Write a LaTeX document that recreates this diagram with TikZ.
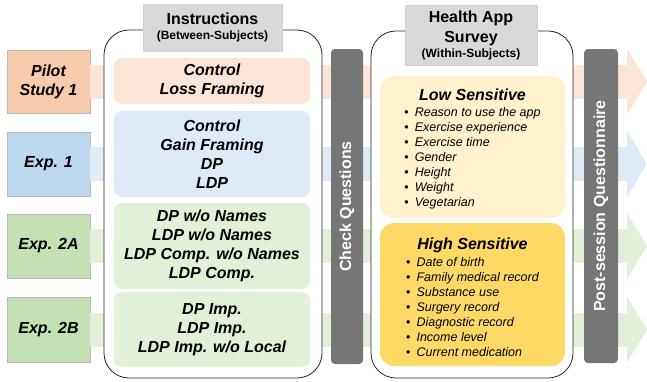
\documentclass[tikz,border=0pt]{standalone}
\usepackage{fontspec}
\setmainfont{Liberation Sans}
\usetikzlibrary{positioning,arrows.meta}

\definecolor{pilotdark}{HTML}{F8CBAD}
\definecolor{pilotlight}{HTML}{FBE5D6}
\definecolor{expAdark}{HTML}{BDD7EE}
\definecolor{expAlight}{HTML}{DEEBF7}
\definecolor{expBdark}{HTML}{C5E0B4}
\definecolor{expBlight}{HTML}{E2F0D9}
\definecolor{lowfill}{HTML}{FFF2CC}
\definecolor{highfill}{HTML}{FFD966}
\definecolor{titlegray}{HTML}{D9D9D9}
\definecolor{bargray}{HTML}{767676}

\begin{document}
\begin{tikzpicture}[x=1pt,y=-1pt,
    expbox/.style={rectangle, draw=gray!55, minimum width=83pt, minimum height=63pt, font=\fontsize{16}{19}\selectfont\bfseries\itshape, align=center},
    band/.style={line width=34pt, -{Triangle[length=20pt, width=66pt, line width=0pt]}},
    phasebox/.style={rectangle, draw=black!85, line width=0.8pt, rounded corners=25pt, fill=white},
    titlebox/.style={rectangle, draw=gray!35, fill=titlegray, font=\fontsize{16}{20}\selectfont\bfseries, align=center},
    condbox/.style={rectangle, rounded corners=8pt, minimum width=196pt, font=\fontsize{16}{19}\selectfont\bfseries\itshape, align=center},
    sensbox/.style={rectangle, rounded corners=14pt, minimum width=185pt, minimum height=142pt, font=\fontsize{12.5}{15}\selectfont\itshape, align=center},
    bar/.style={rectangle, rounded corners=4pt, fill=bargray, rotate=90, minimum width=315pt, text=white, font=\fontsize{16}{19}\selectfont\bfseries}]
    \useasboundingbox (0,0) rectangle (647,381);

    %% Experiments
    \node[expbox, fill=pilotdark] (pilot) at (48.5,81.5) {Pilot\\Study 1};
    \node[expbox, fill=expAdark, minimum height=64pt] (exp1) at (48.5,164) {Exp. 1};
    \node[expbox, fill=expBdark, minimum height=64pt] (exp2a) at (48.5,246) {Exp. 2A};
    \node[expbox, fill=expBdark, minimum height=65pt] (exp2b) at (48.5,329.5) {Exp. 2B};

    \coordinate (pilotend) at (647,81.5);
    \coordinate (exp1end) at (647,164);
    \coordinate (exp2aend) at (647,246);
    \coordinate (exp2bend) at (647,329.5);

    \draw[band, pilotlight] (pilot.east) -- (pilotend);
    \draw[band, expAlight] (exp1.east) -- (exp1end);
    \draw[band, expBlight] (exp2a.east) -- (exp2aend);
    \draw[band, expBlight] (exp2b.east) -- (exp2bend);

    %% Instructions (between-subjects)
    \node[phasebox, minimum width=218pt, minimum height=348pt] (instr) at (213,204) {};
    \node[titlebox, minimum width=139pt, minimum height=47pt] (instrtitle) at (212.5,27.5) {Instructions\\[-5pt]{\fontsize{12}{14}\selectfont(Between-Subjects)}};

    \node[condbox, fill=pilotlight, minimum height=46pt] (c1) at (212,81) {Control\\Loss Framing};
    \node[condbox, fill=expAlight, minimum height=86pt] (c2) at (212,154) {Control\\Gain Framing\\DP\\LDP};
    \node[condbox, fill=expBlight, minimum height=86pt] (c3) at (212,246) {DP w/o Names\\LDP w/o Names\\LDP Comp. w/o Names\\LDP Comp.};
    \node[condbox, fill=expBlight, minimum height=75pt] (c4) at (212,329.5) {DP Imp.\\LDP Imp.\\LDP Imp. w/o Local};

    %% Check questions
    \node[bar, minimum height=32pt] (check) at (347,206.5) {Check Questions};

    %% Health app survey (within-subjects)
    \node[phasebox, minimum width=202pt, minimum height=347pt] (survey) at (472,204.5) {};
    \node[titlebox, minimum width=132pt, minimum height=60pt] (surveytitle) at (471,35) {Health App\\Survey\\[-5pt]{\fontsize{12}{14}\selectfont(Within-Subjects)}};

    \node[sensbox, fill=lowfill] (low) at (472.5,147) {\rule{0pt}{18pt}{\fontsize{16}{19}\selectfont\bfseries Low Sensitive}\\[1pt]
        \begin{tabular}[t]{@{}l@{\hspace{6pt}}l@{}}
             {\upshape\textbullet} & Reason to use the app \\
             {\upshape\textbullet} & Exercise experience \\
             {\upshape\textbullet} & Exercise time \\
             {\upshape\textbullet} & Gender \\
             {\upshape\textbullet} & Height \\
             {\upshape\textbullet} & Weight \\
             {\upshape\textbullet} & Vegetarian
        \end{tabular}};
    \node[sensbox, fill=highfill, minimum height=143pt] (high) at (472.5,294.5) {\rule{0pt}{21pt}{\fontsize{16}{19}\selectfont\bfseries High Sensitive}\\[1.5pt]
        \begin{tabular}[t]{@{}l@{\hspace{6pt}}l@{}}
             {\upshape\textbullet} & Date of birth \\
             {\upshape\textbullet} & Family medical record \\
             {\upshape\textbullet} & Substance use \\
             {\upshape\textbullet} & Surgery record \\
             {\upshape\textbullet} & Diagnostic record \\
             {\upshape\textbullet} & Income level \\
             {\upshape\textbullet} & Current medication
        \end{tabular}};

    %% Post-session questionnaire
    \node[bar, minimum height=34pt, minimum width=314pt] (post) at (601,206) {Post-session Questionnaire};
\end{tikzpicture}
\end{document}
